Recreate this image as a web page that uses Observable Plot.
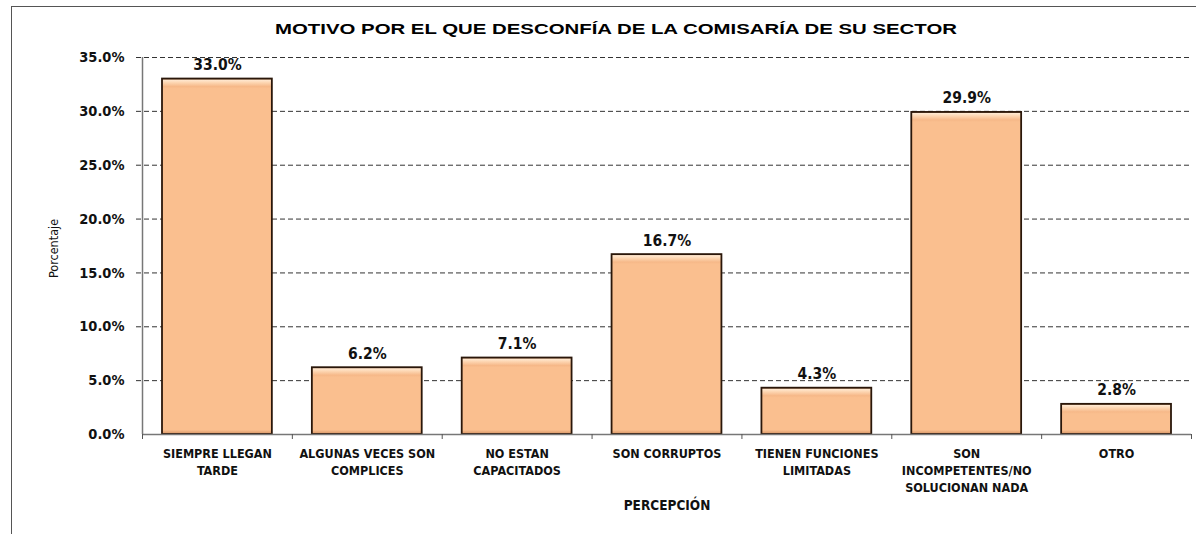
<!DOCTYPE html>
<html>
<head>
<meta charset="utf-8">
<script src="https://cdn.jsdelivr.net/npm/d3@7"></script>
<script src="https://cdn.jsdelivr.net/npm/@observablehq/plot@0.6"></script>
<style>
  html, body { margin: 0; padding: 0; background: #fff; }
  #wrap { position: relative; width: 1196px; height: 534px; overflow: hidden; }
  #frame { position: absolute; left: 11px; top: 6px; width: 1300px; height: 700px;
           border-left: 1.5px solid #555; border-top: 1.5px solid #555; pointer-events: none; }
  svg { display: block; }
</style>
</head>
<body>
<div id="wrap"><div id="frame"></div></div>
<script>
const title = "MOTIVO POR EL QUE DESCONFÍA DE LA COMISARÍA DE SU SECTOR";
const categories = [
  "SIEMPRE LLEGAN\nTARDE",
  "ALGUNAS VECES SON\nCOMPLICES",
  "NO ESTAN\nCAPACITADOS",
  "SON CORRUPTOS",
  "TIENEN FUNCIONES\nLIMITADAS",
  "SON\nINCOMPETENTES/NO\nSOLUCIONAN NADA",
  "OTRO"
];
const values = [0.330, 0.062, 0.071, 0.167, 0.043, 0.299, 0.028];
const yTicks = [0, 0.05, 0.10, 0.15, 0.20, 0.25, 0.30, 0.35];
const xLabel = "PERCEPCIÓN";
const yLabel = "Porcentaje";

const data = categories.map((c, i) => ({cat: c, i, value: values[i]}));
const boundaries = d3.range(categories.length + 1);

const condensed = "'DejaVu Sans Condensed', 'DejaVu Sans', sans-serif";

const chart = Plot.plot({
  width: 1196,
  height: 534,
  marginLeft: 142,
  marginRight: 5,
  marginTop: 57,
  marginBottom: 100,
  style: {fontFamily: condensed, background: "white"},
  x: {domain: [0, categories.length], axis: null},
  y: {domain: [0, 0.35], axis: null},
  marks: [
    Plot.gridY(yTicks.filter(d => d > 0), {stroke: "#333", strokeOpacity: 1, strokeWidth: 1, strokeDasharray: "5,3", x1: -0.04, x2: categories.length}),
    Plot.rectY(data, {
      x1: d => d.i, x2: d => d.i + 1, y: "value",
      insetLeft: 20, insetRight: 20,
      fill: "#fabf8f", stroke: "#2a170a", strokeWidth: 1.8, className: "bars"
    }),
    Plot.ruleX([0], {y1: 0, y2: 0.35, stroke: "#777", strokeWidth: 1.5}),
    Plot.ruleY([0], {stroke: "#777", strokeWidth: 1.5}),
    Plot.axisY(yTicks, {
      tickFormat: d3.format(".1%"), tickSize: 6, tickPadding: 12,
      fontSize: 14.5, fontWeight: "bold", stroke: null, label: null, fill: "#111"
    }),
    Plot.axisX(boundaries, {tickFormat: () => "", tickSize: 5, label: null, stroke: "#555"}),
    Plot.text(data, {
      x: d => d.i + 0.5, y: "value", text: d => d3.format(".1%")(d.value),
      lineAnchor: "bottom", dy: -9, fontSize: 15.5, fontWeight: "bold", fill: "#111"
    }),
    Plot.text(data, {
      x: d => d.i + 0.5, y: 0, text: "cat", lineAnchor: "top", dy: 12,
      fontSize: 12.5, fontWeight: "bold", lineHeight: 1.35, fill: "#111"
    }),
    Plot.text([title], {
      frameAnchor: "top", dx: -51, dy: -35, text: d => d,
      fontFamily: "'Liberation Sans', Arial, sans-serif", fontWeight: "bold", fontSize: 15.5, fill: "#000",
      className: "title"
    }),
    Plot.text([xLabel], {
      frameAnchor: "bottom", dy: 75, text: d => d, fontSize: 13.5, fontWeight: "bold", fill: "#111"
    }),
    Plot.text([yLabel], {
      frameAnchor: "left", textAnchor: "middle", dx: -89, dy: 2.5, rotate: -90, text: d => d,
      fontFamily: "'Liberation Sans Narrow', 'DejaVu Sans Condensed', sans-serif", fontSize: 12.5, fill: "#111"
    })
  ]
});

const svg = d3.select(chart);
svg.selectAll(".title text").attr("textLength", 682).attr("lengthAdjust", "spacingAndGlyphs");
const defs = svg.insert("defs", ":first-child");
svg.selectAll(".bars rect").each(function(_, k) {
  const r = d3.select(this);
  const h = +r.attr("height");
  const id = "barGrad" + k;
  const gr = defs.append("linearGradient").attr("id", id).attr("x1", 0).attr("y1", 0).attr("x2", 0).attr("y2", 1);
  const stops = [[0, "#a8683c"], [1.5, "#ffe8d0"], [4, "#fdd6b2"], [8, "#f6b888"], [10, "#fabf8f"],
                 [h - 4, "#fabf8f"], [h - 1.5, "#e3a474"], [h, "#9a5c30"]];
  stops.forEach(([px, c]) => gr.append("stop").attr("offset", Math.max(0, Math.min(1, px / h))).attr("stop-color", c));
  r.attr("fill", `url(#${id})`);
});

document.getElementById("wrap").prepend(chart);
</script>
</body>
</html>
